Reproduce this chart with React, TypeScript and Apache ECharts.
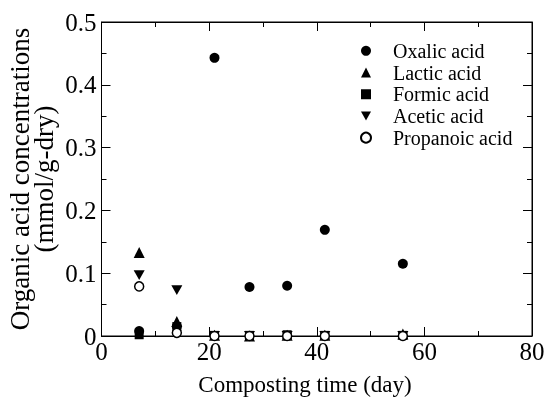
import React, { useEffect, useRef } from "react";
import * as echarts from "echarts";

const days = [7, 14, 21, 27.5, 34.5, 41.5, 56];
const oxalic = [0.008, 0.015, 0.443, 0.078, 0.08, 0.169, 0.115];
const lactic = [0.133, 0.023, 0.001, 0.0, 0.001, 0.001, 0.003];
const formic = [0.002, 0.015, 0.001, 0.001, 0.002, 0.001, 0.001];
const acetic = [0.097, 0.073, 0.0, 0.0, 0.0, 0.0, 0.0];
const propanoic = [0.079, 0.005, 0.0, 0.0, 0.0, 0.0, 0.0];
const seriesNames = ["Oxalic acid", "Lactic acid", "Formic acid", "Acetic acid", "Propanoic acid"];
const xTitle = "Composting time (day)";
const yTitle = "Organic acid concentrations\n(mmol/g-dry)";

const FONT = "'Liberation Serif', 'Times New Roman', serif";

function pairs(vals: number[]) {
  return days.map((d, i) => [d, vals[i]]);
}

export default function App() {
  const ref = useRef<HTMLDivElement>(null);
  useEffect(() => {
    if (!ref.current) return;
    const chart = echarts.init(ref.current, null, { renderer: "svg" });
    const axisLine = { show: true, onZero: false, lineStyle: { color: "#000", width: 1 } };
    const tickBase = { show: true, inside: true, length: 9, lineStyle: { color: "#000", width: 1 } };
    const minorBase = { show: true, splitNumber: 2, length: 5, lineStyle: { color: "#000", width: 1 } };
    const inverted = "path://M0,0L20,0L10,18Z";
    const mk = (name: string, vals: number[], symbol: string, size: number, open = false) => ({
      name,
      type: "scatter",
      xAxisIndex: 0,
      yAxisIndex: 0,
      data: pairs(vals),
      symbol,
      symbolSize: size,
      symbolKeepAspect: true,
      itemStyle: open
        ? { color: "#fff", borderColor: "#000", borderWidth: 1.5, opacity: 1 }
        : { color: "#000", opacity: 1 },
    });
    chart.setOption({
      animation: false,
      textStyle: { fontFamily: FONT, color: "#000" },
      grid: {
        left: 101.5,
        right: 22,
        top: 22,
        bottom: 67,
        containLabel: false,
        show: true,
        borderColor: "#000",
        borderWidth: 1,
        backgroundColor: "transparent",
      },
      legend: {
        orient: "vertical",
        left: 355,
        top: 35,
        itemWidth: 10,
        itemHeight: 10,
        itemGap: 0,
        symbolKeepAspect: true,
        textStyle: { fontFamily: FONT, fontSize: 20, color: "#000", lineHeight: 21.7, padding: [0, 0, 0, 17] },
        data: seriesNames,
      },
      xAxis: [
        {
          type: "value",
          position: "bottom",
          min: 0,
          max: 80,
          interval: 20,
          axisLine,
          axisTick: tickBase,
          minorTick: minorBase,
          splitLine: { show: false },
          axisLabel: { fontFamily: FONT, fontSize: 25, color: "#000", margin: 3 },
        },
        {
          type: "value",
          position: "top",
          min: 0,
          max: 80,
          interval: 20,
          axisLine,
          axisTick: tickBase,
          minorTick: minorBase,
          splitLine: { show: false },
          axisLabel: { show: false },
        },
      ],
      yAxis: [
        {
          type: "value",
          position: "left",
          min: 0,
          max: 0.5,
          interval: 0.1,
          axisLine,
          axisTick: tickBase,
          minorTick: minorBase,
          splitLine: { show: false },
          axisLabel: {
            fontFamily: FONT,
            fontSize: 25,
            color: "#000",
            margin: 5,
            padding: [0, 0, 5, 0],
            formatter: (v: number) => (v === 0 ? "0" : v.toFixed(1)),
          },
        },
        {
          type: "value",
          position: "right",
          min: 0,
          max: 0.5,
          interval: 0.1,
          axisLine,
          axisTick: tickBase,
          minorTick: minorBase,
          splitLine: { show: false },
          axisLabel: { show: false },
        },
      ],
      graphic: [
        {
          type: "text",
          x: 305,
          y: 384,
          style: {
            text: xTitle,
            fontFamily: FONT,
            fontSize: 23,
            fill: "#000",
            align: "center",
            verticalAlign: "middle",
          },
        },
        {
          type: "text",
          x: 32,
          y: 179,
          rotation: Math.PI / 2,
          style: {
            text: yTitle,
            fontFamily: FONT,
            fontSize: 27,
            lineHeight: 24,
            fill: "#000",
            align: "center",
            verticalAlign: "middle",
          },
        },
      ],
      series: [
        mk(seriesNames[0], oxalic, "circle", 10),
        mk(seriesNames[1], lactic, "triangle", 11),
        mk(seriesNames[2], formic, "rect", 9),
        mk(seriesNames[3], acetic, inverted, 11),
        mk(seriesNames[4], propanoic, "circle", 9, true),
        {
          name: "frame",
          type: "scatter",
          xAxisIndex: 1,
          yAxisIndex: 1,
          data: [[-10, -1]],
          symbolSize: 0,
          silent: true,
        },
      ],
    });
    return () => chart.dispose();
  }, []);
  return <div ref={ref} style={{ width: 554, height: 403, position: "fixed", left: 0, top: 0 }} />;
}
